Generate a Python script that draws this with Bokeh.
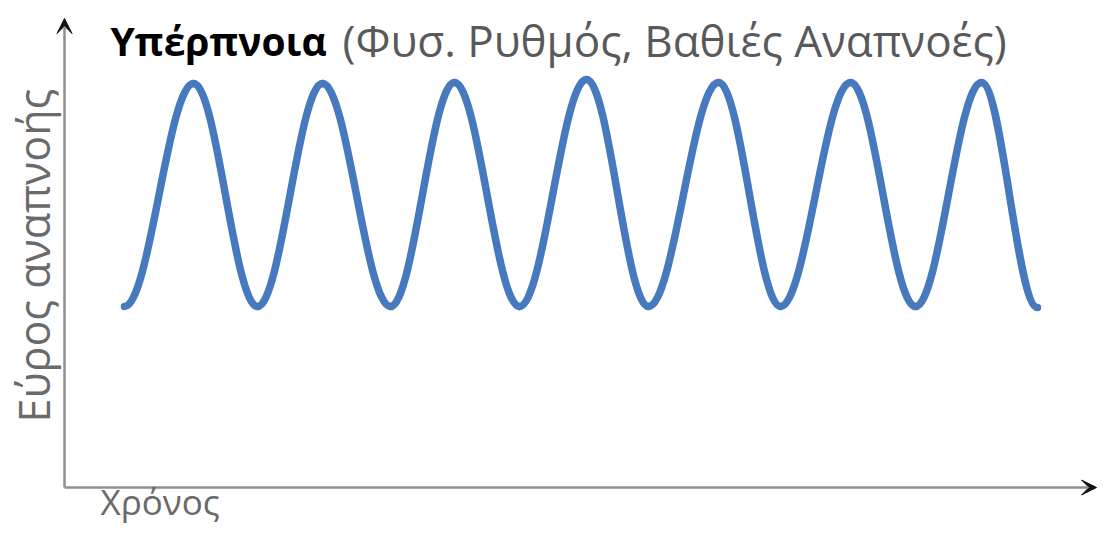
import math
from bokeh.plotting import figure
from bokeh.models import Range1d, Label, Arrow, VeeHead, ColumnDataSource
from bokeh.embed import file_html
from bokeh.resources import INLINE

# --- data (time in s, amplitude in arbitrary units) ---
trough_t = [0.59, 1.92, 3.25, 4.54, 5.83, 7.15, 8.50, 9.72]
trough_a = [1.81, 1.81, 1.81, 1.81, 1.81, 1.81, 1.81, 1.80]
peak_t = [1.28, 2.57, 3.89, 5.21, 6.53, 7.85, 9.16]
peak_a = [4.04, 4.04, 4.05, 4.08, 4.05, 4.05, 4.05]

title_bold = "Υπέρπνοια"
title_rest = "(Φυσ. Ρυθμός, Βαθιές Αναπνοές)"
y_label = "Εύρος αναπνοής"
x_label = "Χρόνος"

# interleave extrema: trough, peak, trough, ...
ext_t, ext_a = [], []
for i in range(len(trough_t)):
    ext_t.append(trough_t[i]); ext_a.append(trough_a[i])
    if i < len(peak_t):
        ext_t.append(peak_t[i]); ext_a.append(peak_a[i])

k = 0.3642  # cubic bezier approximation of a half cosine
x0 = ext_t[:-1]; y0 = ext_a[:-1]; x1 = ext_t[1:]; y1 = ext_a[1:]
cx0 = [a + k * (b - a) for a, b in zip(x0, x1)]
cx1 = [b - k * (b - a) for a, b in zip(x0, x1)]
src = ColumnDataSource(dict(x0=x0, y0=y0, x1=x1, y1=y1, cx0=cx0, cy0=y0, cx1=cx1, cy1=y1))

W, H = 1098, 524
p = figure(width=W, height=H, output_backend="svg", toolbar_location=None,
           x_range=Range1d(-0.65, 10.33), y_range=Range1d(-0.37, 4.87),
           min_border=0, min_border_left=0, min_border_right=0,
           min_border_top=0, min_border_bottom=0)
p.axis.visible = False
p.grid.visible = False
p.outline_line_color = None
p.background_fill_color = "white"
p.border_fill_color = "white"

p.bezier(x0="x0", y0="y0", x1="x1", y1="y1", cx0="cx0", cy0="cy0", cx1="cx1", cy1="cy1",
         source=src, line_color="#4779bf", line_width=7.5, line_cap="round")

axis_col = "#8f8f8f"
p.add_layout(Arrow(end=VeeHead(size=15, fill_color="#111111", line_color="#111111", line_width=1),
                   x_start=-0.01, y_start=0.0, x_end=-0.01, y_end=4.69,
                   line_color=axis_col, line_width=2.5))
p.add_layout(Arrow(end=VeeHead(size=15, fill_color="#111111", line_color="#111111", line_width=1),
                   x_start=-0.01, y_start=0.0, x_end=10.31, y_end=0.0,
                   line_color=axis_col, line_width=2.5))

font = "Open Sans"
p.add_layout(Label(x=0.45, y=4.47, text=title_bold, text_font=font, text_font_size="39px",
                   text_font_style="bold", text_color="#000000", text_baseline="alphabetic"))
p.add_layout(Label(x=2.77, y=4.48, text=title_rest, text_font=font, text_font_size="44px",
                   text_color="#595959", text_baseline="alphabetic"))
p.add_layout(Label(x=-0.32, y=0.65, text=y_label, text_font=font, text_font_size="43px",
                   angle=math.pi / 2, text_color="#6a6a6a", text_baseline="alphabetic",
                   text_align="left"))
p.add_layout(Label(x=0.35, y=-0.14, text=x_label, text_font=font, text_font_size="35px",
                   text_color="#6a6a6a", text_baseline="alphabetic"))

open("out.html", "w").write(file_html(p, INLINE))
